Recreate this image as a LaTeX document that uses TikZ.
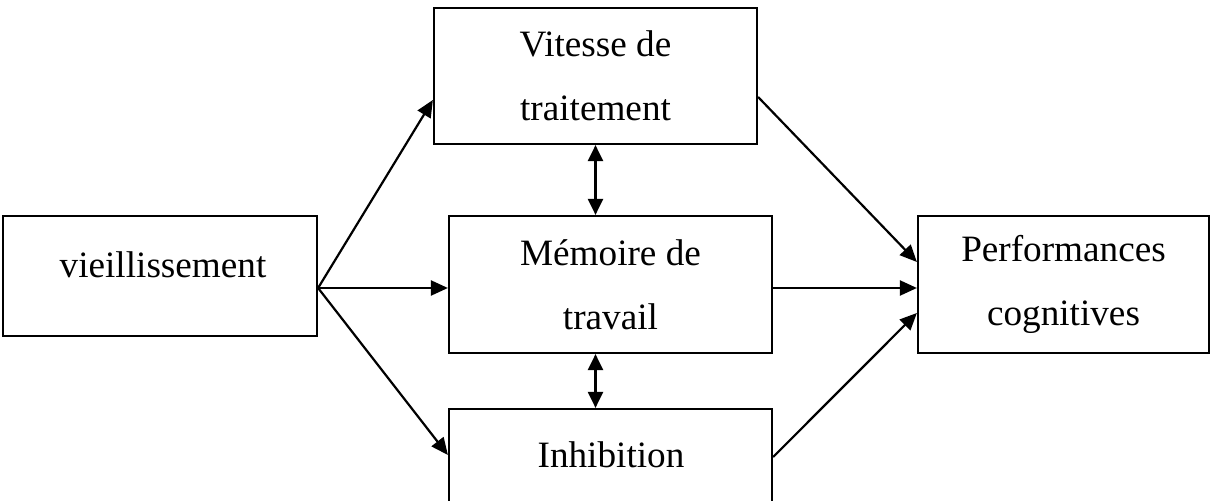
\documentclass[tikz,border=0pt]{standalone}
\usepackage{fontspec}
\setmainfont{Liberation Serif}
\usetikzlibrary{arrows.meta}
\begin{document}
\begin{tikzpicture}[x=0.5pt,y=-0.5pt,
  box/.style={draw=black,line width=1.1pt,inner sep=0pt,fill=white},
  lbl/.style={font=\fontsize{18.6}{32}\selectfont,align=center,inner sep=0pt},
  conn/.style={line width=1.1pt,-{Triangle[length=8.5pt,width=7.5pt]}},
  dconn/.style={line width=1.1pt,{Triangle[length=8pt,width=7.5pt]}-{Triangle[length=8pt,width=7.5pt]}}]
\useasboundingbox (0,0) rectangle (1211,501);
\clip (0,0) rectangle (1211,501);
\fill[white] (0,0) rectangle (1211,501);
% boxes
\node[box,minimum width=157pt,minimum height=60pt] (viei) at (160,276) {};
\node[lbl,anchor=base] (vieit) at (163,278) {vieillissement};
\node[box,lbl,minimum width=161.5pt,minimum height=68pt] (vit) at (595.5,76) {Vitesse de\\traitement};
\node[box,lbl,minimum width=161.5pt,minimum height=68.5pt] (mem) at (610.5,284.5) {Mémoire de\\travail};
\node[box,minimum width=161.5pt,minimum height=68.5pt] (inh) at (610.5,477.5) {};
\node[lbl,anchor=base] (inht) at (611,468) {Inhibition};
\node[box,lbl,minimum width=145.5pt,minimum height=68.5pt] (perf) at (1063.5,284.5) {Performances\\cognitives};
% connectors
\draw[conn] ([yshift=-6pt]viei.east) -- ([yshift=-12pt]vit.west);
\draw[conn] ([yshift=-6pt]viei.east) -- ([yshift=-1.75pt]mem.west);
\draw[conn] ([yshift=-6pt]viei.east) -- ([yshift=11.25pt]inh.west);
\draw[conn] ([yshift=-10.5pt]vit.east) -- ([yshift=11.25pt]perf.west);
\draw[conn] ([yshift=-1.75pt]mem.east) -- ([yshift=-1.75pt]perf.west);
\draw[conn] ([yshift=10.25pt]inh.east) -- ([yshift=-14.25pt]perf.west);
\draw[dconn] (vit.south) -- (vit.south |- mem.north);
\draw[dconn] (vit.south |- mem.south) -- (vit.south |- inh.north);
\end{tikzpicture}
\end{document}
